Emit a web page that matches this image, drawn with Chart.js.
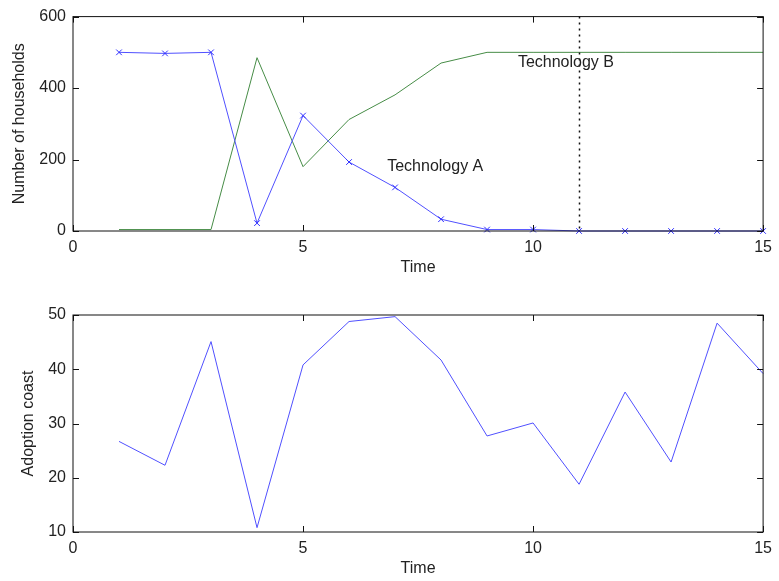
<!DOCTYPE html>
<html>
<head>
<meta charset="utf-8">
<script src="https://cdn.jsdelivr.net/npm/chart.js@4.4.1/dist/chart.umd.min.js"></script>
<style>
  body { margin: 0; background: #fff; }
  canvas { position: absolute; left: 0; }
  #top { top: 0; }
  #bottom { top: 290px; }
</style>
</head>
<body>
<canvas id="top" width="779" height="290"></canvas>
<canvas id="bottom" width="779" height="291"></canvas>
<script>
// time steps
const time = [1, 2, 3, 4, 5, 6, 7, 8, 9, 10, 11, 12, 13, 14, 15];
// households per technology
const techA = [500, 497, 500, 22, 323, 193, 122, 33, 4, 4, 0, 0, 0, 0, 0];
const techB = [4, 4, 4, 485, 180, 312, 381, 470, 500, 500, 500, 500, 500, 500, 500];
// adoption cost
const cost = [26.7, 22.3, 45.1, 10.8, 40.8, 48.8, 49.7, 41.7, 27.7, 30.1, 18.8, 35.8, 22.9, 48.5, 39.2];

const xTicks = [0, 5, 10, 15];
const font = { family: 'Liberation Sans, Arial, sans-serif', size: 16 };
const textColor = '#222';

const pts = (ys) => time.map((t, i) => ({ x: t, y: ys[i] }));

// box around the plot, inward ticks, text labels and marker line
const frame = {
  id: 'frame',
  afterDraw(chart, args, opts) {
    const { ctx, chartArea: a, scales: { x, y } } = chart;
    ctx.save();
    ctx.strokeStyle = '#111';
    ctx.lineWidth = 1;
    ctx.strokeRect(a.left, a.top, a.right - a.left, a.bottom - a.top);
    ctx.beginPath();
    x.ticks.forEach(t => {
      const px = Math.round(x.getPixelForValue(t.value)) + 0.5;
      ctx.moveTo(px, a.bottom); ctx.lineTo(px, a.bottom - 6);
      ctx.moveTo(px, a.top); ctx.lineTo(px, a.top + 6);
    });
    y.ticks.forEach(t => {
      const py = Math.round(y.getPixelForValue(t.value)) + 0.5;
      ctx.moveTo(a.left, py); ctx.lineTo(a.left + 6, py);
      ctx.moveTo(a.right, py); ctx.lineTo(a.right - 6, py);
    });
    ctx.stroke();

    if (opts.vline !== undefined) {
      const px = Math.round(x.getPixelForValue(opts.vline)) + 0.5;
      ctx.setLineDash([2, 4]);
      ctx.lineWidth = 1.5;
      ctx.beginPath();
      ctx.moveTo(px, a.top); ctx.lineTo(px, a.bottom);
      ctx.stroke();
      ctx.setLineDash([]);
    }

    (opts.labels || []).forEach(l => {
      ctx.fillStyle = textColor;
      ctx.font = `${font.size}px ${font.family}`;
      ctx.textAlign = 'left';
      ctx.textBaseline = 'middle';
      ctx.fillText(l.text, x.getPixelForValue(l.x), y.getPixelForValue(l.y));
    });
    ctx.restore();
  }
};

function makeChart(id, datasets, yCfg, xHeight, padTop, yTitlePad, xTitlePad, frameOpts) {
  return new Chart(document.getElementById(id), {
    type: 'line',
    data: { datasets },
    options: {
      responsive: false,
      animation: false,
      layout: { padding: { top: padTop, right: 13, left: 0, bottom: 0 } },
      plugins: { legend: { display: false }, tooltip: { enabled: false }, frame: frameOpts },
      scales: {
        x: {
          type: 'linear', min: 0, max: 15,
          afterBuildTicks: s => { s.ticks = xTicks.map(v => ({ value: v })); },
          ticks: { font, color: textColor, padding: 7, maxRotation: 0 },
          grid: { display: false, drawTicks: false },
          border: { display: false },
          title: { display: true, text: 'Time', font, color: textColor, padding: { top: 0, bottom: xTitlePad } },
          afterFit: s => { s.height = xHeight; }
        },
        y: {
          min: yCfg.min, max: yCfg.max,
          afterBuildTicks: s => { s.ticks = yCfg.ticks.map(v => ({ value: v })); },
          ticks: { font, color: textColor, padding: 7 },
          grid: { display: false, drawTicks: false },
          border: { display: false },
          title: { display: true, text: yCfg.title, font, color: textColor, padding: { top: yTitlePad, bottom: 0 } },
          afterFit: s => { s.width = 73; }
        }
      }
    },
    plugins: [frame]
  });
}

makeChart('top', [
  {
    label: 'Technology A', data: pts(techA),
    borderColor: '#5050ff', borderWidth: 1, pointStyle: 'crossRot', pointRadius: 4,
    pointBorderColor: '#3030ff', pointBorderWidth: 1, clip: false, order: 0
  },
  {
    label: 'Technology B', data: pts(techB),
    borderColor: 'rgb(70,140,70)', borderWidth: 1, pointRadius: 0, clip: false, order: 1
  }
], { min: 0, max: 600, ticks: [0, 200, 400, 600], title: 'Number of households' },
  59, 14, 10, 13,
  { vline: 11, labels: [{ text: 'Technology B', x: 9.67, y: 470 }, { text: 'Technology A', x: 6.83, y: 180 }] });

makeChart('bottom', [
  {
    label: 'Adoption coast', data: pts(cost),
    borderColor: '#5050ff', borderWidth: 1, pointRadius: 0, clip: false
  }
], { min: 10, max: 50, ticks: [10, 20, 30, 40, 50], title: 'Adoption coast' },
  49, 25, 19, 3, {});
</script>
</body>
</html>
